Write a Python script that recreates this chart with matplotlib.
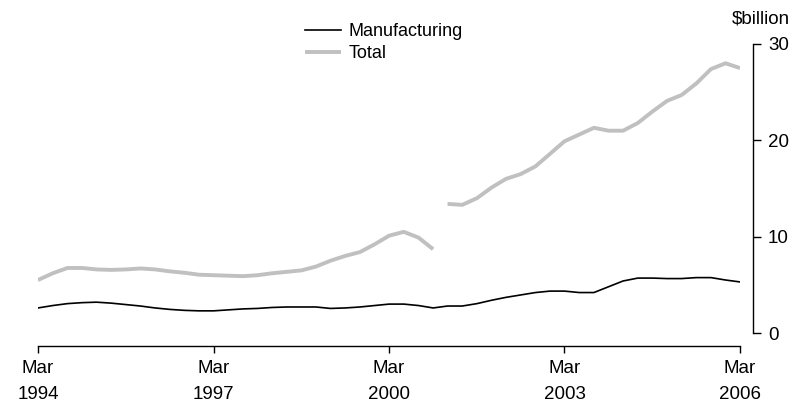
import matplotlib

matplotlib.use("Agg")
import matplotlib.pyplot as plt
import numpy as np
import pandas as pd

# quarterly, Mar 1994 .. Mar 2006
quarters = pd.date_range("1994-03-01", "2006-03-01", freq="QS-MAR")

manufacturing = [
    2.6, 2.85, 3.05, 3.15, 3.2, 3.1, 2.95, 2.8, 2.6, 2.45, 2.35, 2.3, 2.3,
    2.4, 2.5, 2.55, 2.65, 2.7, 2.7, 2.7, 2.55, 2.6, 2.7, 2.85, 3.0, 3.0,
    2.85, 2.6, 2.8, 2.8, 3.05, 3.4, 3.7, 3.95, 4.2, 4.35, 4.35, 4.2, 4.2,
    4.8, 5.4, 5.7, 5.7, 5.65, 5.65, 5.75, 5.75, 5.5, 5.3,
]
# series break between Dec 2000 and Mar 2001
total_old = [
    5.5, 6.2, 6.75, 6.75, 6.6, 6.55, 6.6, 6.7, 6.6, 6.4, 6.25, 6.05, 6.0,
    5.95, 5.9, 6.0, 6.2, 6.35, 6.5, 6.9, 7.5, 8.0, 8.4, 9.2, 10.1, 10.5,
    9.9, 8.7,
]
total_new = [
    13.4, 13.3, 14.0, 15.1, 16.0, 16.5, 17.3, 18.6, 19.9, 20.6, 21.3, 21.0,
    21.0, 21.8, 23.0, 24.1, 24.7, 25.9, 27.4, 28.0, 27.5,
]

tick_dates = pd.to_datetime(["1994-03-01", "1997-03-01", "2000-03-01",
                             "2003-03-01", "2006-03-01"])
tick_labels = ["Mar\n1994", "Mar\n1997", "Mar\n2000", "Mar\n2003", "Mar\n2006"]
y_ticks = [0, 10, 20, 30]

plt.rcParams["font.family"] = ["Liberation Sans", "DejaVu Sans"]
plt.rcParams["font.size"] = 13.5

W, H = 798, 407
PX = 72 / 100  # points per pixel
fig = plt.figure(figsize=(W / 100, H / 100), dpi=100)
ax = fig.add_axes([38 / W, (H - 333) / H, (740 - 38) / W, (333 - 44) / H])

grey = "#c0c0c0"
n_old = len(total_old)
ax.plot(quarters[:n_old], total_old, color=grey, lw=2.8, solid_capstyle="butt")
ax.plot(quarters[n_old:], total_new, color=grey, lw=2.8, solid_capstyle="butt",
        label="Total")
ax.plot(quarters, manufacturing, color="black", lw=1.2, label="Manufacturing")

ax.set_xlim(quarters[0], quarters[-1])
ax.set_ylim(0, 30)

for s in ("top", "left"):
    ax.spines[s].set_visible(False)
ax.spines["right"].set_position(("outward", 13 * PX))
ax.spines["bottom"].set_position(("outward", 13 * PX))
ax.spines["right"].set_linewidth(1.0)
ax.spines["bottom"].set_linewidth(1.0)

ax.yaxis.tick_right()
ax.set_yticks(y_ticks)
ax.tick_params(axis="y", direction="out", length=8 * PX, width=1.0, pad=5)
ax.set_xticks(tick_dates)
ax.set_xticklabels(tick_labels, linespacing=1.7)
ax.tick_params(axis="x", direction="out", length=7 * PX, width=1.0, pad=5)

fig.text(790 / W, 1 - 19 / H, r"\$billion", ha="right", va="center")

handles, labels = ax.get_legend_handles_labels()
order = [1, 0]
ax.legend([handles[i] for i in order], [labels[i] for i in order],
          loc="upper left", bbox_to_anchor=(305 / W, 1 - 23 / H),
          bbox_transform=fig.transFigure, frameon=False, borderpad=0,
          borderaxespad=0, handlelength=2.0, handletextpad=0.4,
          labelspacing=0.27, fontsize=13)

fig.savefig("out.png", dpi=100)
